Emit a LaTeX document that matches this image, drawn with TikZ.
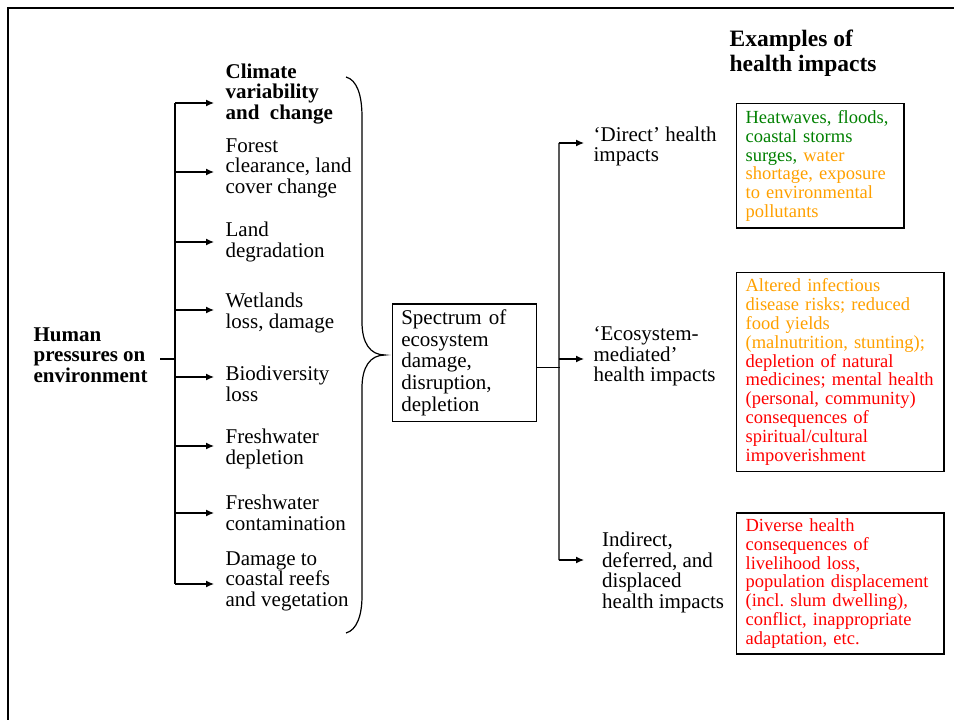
\documentclass[tikz,border=0pt]{standalone}
\usepackage{fontspec}
\setmainfont{Liberation Serif}
\usetikzlibrary{arrows.meta}

\definecolor{hwgreen}{RGB}{0,128,0}
\definecolor{hwor}{RGB}{255,160,0}
\definecolor{hwred}{RGB}{255,0,0}
\newcommand{\mainsz}{\fontsize{21bp}{20.5bp}\selectfont}
\newcommand{\specsz}{\fontsize{21bp}{21.75bp}\selectfont}
\newcommand{\boxsz}{\fontsize{18.5bp}{18.8bp}\selectfont}
\newcommand{\hdsz}{\fontsize{23.5bp}{25bp}\selectfont}
\frenchspacing

\begin{document}
\begin{tikzpicture}[x=1bp, y=-1bp, line width=1.2bp,
        item/.style = {align=left, inner sep=0pt, anchor=west, font=\mainsz},
        hbox/.style = {draw, align=left, anchor=north west, inner xsep=9.3bp, inner ysep=0pt, font=\boxsz},
        arr/.style = {-{Latex[length=8bp,width=7bp]}}]
        \useasboundingbox (0,0) rectangle (954,720);
        \draw[line width=2.6bp] (8,720) -- (8,8) -- (954,8);

        % left side
        \node[item, font=\mainsz\bfseries] (hp) at (33,355) {Human\\ pressures on\\ environment};

        \node[item, font=\mainsz\bfseries] (clim) at (225,94) {Climate\\ variability\\ and\ \ change};
        \node[item] (forest) at (225,168) {Forest\\ clearance, land\\ cover change};
        \node[item] (land) at (225,242) {Land\\ degradation};
        \node[item] (wet) at (225,313) {Wetlands\\ loss, damage};
        \node[item] (bio) at (225,384) {Biodiversity\\ loss};
        \node[item] (fwdep) at (225,449) {Freshwater\\ depletion};
        \node[item] (fwcon) at (225,513) {Freshwater\\ contamination};
        \node[item] (coast) at (225,581) {Damage to\\ coastal reefs\\ and vegetation};

        \draw ([xshift=12bp,yshift=-4bp]hp.east) -- ++(16,0);
        \draw ([xshift=-50bp,yshift=-9bp]clim.west) -- ([xshift=-50bp,yshift=-3bp]coast.west);
        \draw[arr, shorten >=11bp] ([xshift=-50bp,yshift=-9bp]clim.west) -- ([yshift=-9bp]clim.west);
        \draw[arr, shorten >=11bp] ([xshift=-50bp,yshift=-4bp]forest.west) -- ([yshift=-4bp]forest.west);
        \draw[arr, shorten >=11bp] ([xshift=-50bp]land.west) -- (land.west);
        \draw[arr, shorten >=11bp] ([xshift=-50bp,yshift=3bp]wet.west) -- ([yshift=3bp]wet.west);
        \draw[arr, shorten >=11bp] ([xshift=-50bp,yshift=7bp]bio.west) -- ([yshift=7bp]bio.west);
        \draw[arr, shorten >=11bp] ([xshift=-50bp,yshift=3bp]fwdep.west) -- ([yshift=3bp]fwdep.west);
        \draw[arr, shorten >=11bp] ([xshift=-50bp]fwcon.west) -- (fwcon.west);
        \draw[arr, shorten >=11bp] ([xshift=-50bp,yshift=-3bp]coast.west) -- ([yshift=-3bp]coast.west);

        % brace
        \draw (346,77) .. controls (357,80) and (362,95) .. (362,117) -- (362,322)
            .. controls (362,343) and (370,355) .. (385,355)
            .. controls (370,355) and (362,367) .. (362,388) -- (362,596)
            .. controls (362,615) and (357,630) .. (346,633);

        % middle
        \node[draw, align=left, anchor=north west, inner xsep=9bp, inner ysep=0pt, font=\specsz,
            minimum width=144.3bp, minimum height=117.4bp, text width=126.3bp] (spec) at (391.7,303.3)
            {Spectrum of\\ ecosystem\\ damage,\\ disruption,\\ depletion};

        \node[item] (direct) at (593,146.5) {‘Direct’ health\\ impacts};
        \node[item] (ecomed) at (593,356.5) {‘Ecosystem-\\ mediated’\\ health impacts};
        \node[item] (indirect) at (601.6,572.5) {Indirect,\\ deferred, and\\ displaced\\ health impacts};

        \draw ([yshift=-5bp]spec.east) -- ++(23,0);
        \draw ([xshift=-34bp,yshift=3.5bp]direct.west) -- ([xshift=-42.6bp,yshift=12.5bp]indirect.west);
        \draw[arr, shorten >=9bp] ([xshift=-34bp,yshift=3.5bp]direct.west) -- ([yshift=3.5bp]direct.west);
        \draw[arr, shorten >=9bp] ([xshift=-34bp,yshift=-2.5bp]ecomed.west) -- ([yshift=-2.5bp]ecomed.west);
        \draw[arr, shorten >=17.6bp] ([xshift=-42.6bp,yshift=12.5bp]indirect.west) -- ([yshift=12.5bp]indirect.west);

        % examples
        \node[item, font=\hdsz\bfseries] (head) at (729,53.5) {Examples of\\ health impacts};

        \node[hbox, text=hwgreen, minimum width=167.6bp, minimum height=124bp, text width=149bp] (ex1) at (735.7,103.3)
            {Heatwaves, floods,\\ coastal storms\\ surges, \color{hwor}water\\ shortage, exposure\\ to environmental\\ pollutants};
        \node[hbox, text=hwor, minimum width=207.6bp, minimum height=199.3bp, text width=189bp] (ex2) at (735.7,271.7)
            {Altered infectious\\ disease risks; reduced\\ food yields\\ (malnutrition, stunting);\\
            \color{hwred}depletion of natural\\ medicines; mental health\\ (personal, community)\\
            consequences of\\ spiritual/cultural\\ impoverishment};
        \node[hbox, text=hwred, minimum width=207.6bp, minimum height=141bp, text width=189bp] (ex3) at (735.7,512.3)
            {Diverse health\\ consequences of\\ livelihood loss,\\ population displacement\\
            (incl. slum dwelling),\\ conflict, inappropriate\\ adaptation, etc.};
\end{tikzpicture}
\end{document}
